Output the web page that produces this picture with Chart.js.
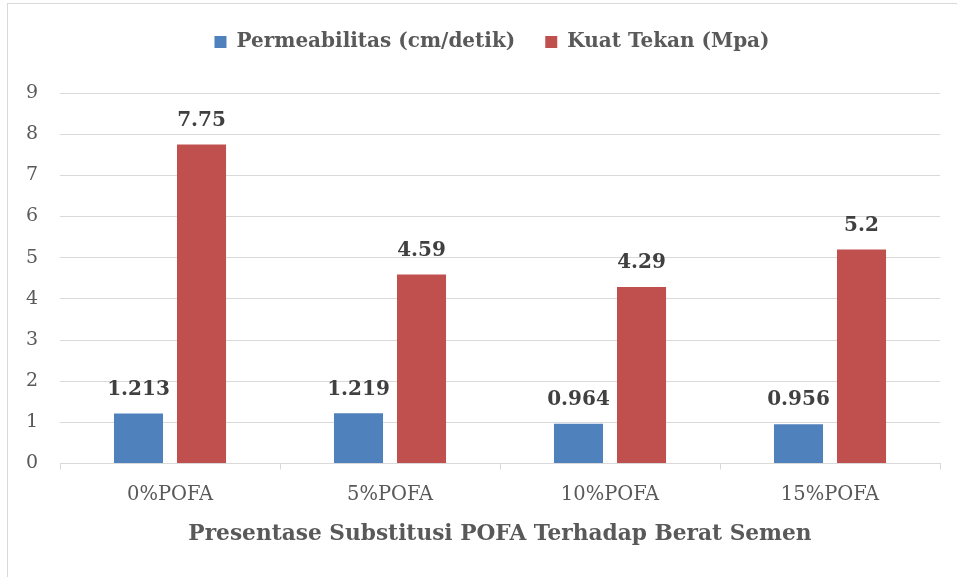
<!DOCTYPE html>
<html>
<head>
<meta charset="utf-8">
<script src="https://cdn.jsdelivr.net/npm/chart.js@4"></script>
<style>
  body { margin: 0; background: #fff; }
  #frame { position: absolute; left: 7px; top: 3px; width: 960px; height: 580px;
           border-left: 1.5px solid #d9d9d9; border-top: 1.5px solid #d9d9d9; }
  #wrap { position: absolute; left: 0; top: 0; width: 957px; height: 577px; }
</style>
</head>
<body>
<div id="frame"></div>
<div id="wrap"><canvas id="chart"></canvas></div>
<script>
const categories = ['0%POFA', '5%POFA', '10%POFA', '15%POFA']
const permeabilitas = [1.213, 1.219, 0.964, 0.956]
const kuatTekan = [7.75, 4.59, 4.29, 5.2]
const seriesNames = ['Permeabilitas (cm/detik)', 'Kuat Tekan (Mpa)']
const xTitle = 'Presentase Substitusi POFA Terhadap Berat Semen'

const FONT = "'DejaVu Serif', serif"
const TEXT = '#595959'
const GRID = '#d9d9d9'

// draws value labels above each bar
const barLabels = {
  id: 'barLabels',
  afterDatasetsDraw(chart) {
    const ctx = chart.ctx
    ctx.save()
    ctx.font = 'bold 20px ' + FONT
    ctx.fillStyle = '#404040'
    ctx.textAlign = 'center'
    ctx.textBaseline = 'bottom'
    chart.data.datasets.forEach((ds, i) => {
      chart.getDatasetMeta(i).data.forEach((bar, j) => {
        ctx.fillText(String(ds.data[j]), bar.x, bar.y - 14)
      })
    })
    ctx.restore()
  }
}

// more room under the legend, and nudge it right a bit
const legendGap = {
  id: 'legendGap',
  beforeInit(chart) {
    const fit = chart.legend.fit
    chart.legend.fit = function () {
      fit.call(this)
      this.height += 31
    }
  },
  afterLayout(chart) {
    chart.legend.left += 22
    chart.legend.right += 22
  }
}

new Chart(document.getElementById('chart'), {
  type: 'bar',
  data: {
    labels: categories,
    datasets: [
      { label: seriesNames[0], data: permeabilitas, backgroundColor: '#4f81bd' },
      { label: seriesNames[1], data: kuatTekan, backgroundColor: '#c0504d' }
    ]
  },
  options: {
    responsive: true,
    maintainAspectRatio: false,
    animation: false,
    categoryPercentage: 0.573,
    barPercentage: 0.778,
    layout: { padding: { top: 2, right: 17, bottom: 26, left: 0 } },
    plugins: {
      tooltip: { enabled: false },
      legend: {
        position: 'top',
        labels: {
          boxWidth: 12, boxHeight: 12, padding: 30,
          color: TEXT,
          font: { family: FONT, size: 20, weight: 'bold' }
        }
      }
    },
    scales: {
      x: {
        offset: true,
        grid: { offset: true, drawOnChartArea: false, drawTicks: true, tickLength: 6, color: GRID },
        border: { color: GRID },
        ticks: { color: TEXT, padding: 14, font: { family: FONT, size: 19.5 } },
        title: {
          display: true, text: xTitle, color: TEXT,
          padding: { top: 0, bottom: 4 },
          font: { family: FONT, size: 21.7, weight: 'bold' }
        }
      },
      y: {
        min: 0, max: 9,
        afterFit(scale) { scale.width = 60 },
        grid: { color: GRID, drawTicks: false },
        border: { display: false },
        ticks: { stepSize: 1, color: TEXT, padding: 22, font: { family: FONT, size: 19 } }
      }
    }
  },
  plugins: [barLabels, legendGap]
})
</script>
</body>
</html>
